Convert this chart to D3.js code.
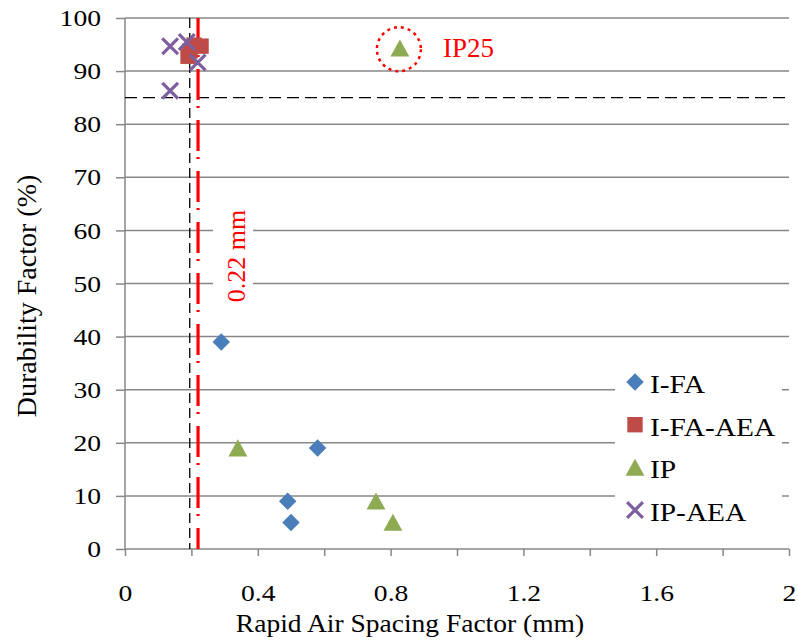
<!DOCTYPE html>
<html>
<head>
<meta charset="utf-8">
<script src="https://cdn.jsdelivr.net/npm/d3@7"></script>
<style>
  body { margin: 0; background: #fff; }
  text { font-family: "Liberation Serif", "Times New Roman", serif; }
</style>
</head>
<body>
<svg id="drawing-area"></svg>
<script>
// data
var series = ["I-FA", "I-FA-AEA", "IP", "IP-AEA"];
var colors = ["#4A7EBB", "#BE4B48", "#8EAA52", "#7D5FA0"];

var ifa     = [[0.29, 39], [0.58, 19], [0.49, 9], [0.50, 5]];
var ifaAea  = [[0.208, 94.9], [0.229, 94.7], [0.196, 93.8], [0.19, 92.8]];
var ip      = [[0.34, 19], [0.756, 9], [0.807, 5], [0.828, 94.3]];
var ipAea   = [[0.136, 94.7], [0.186, 95.5], [0.219, 91.6], [0.136, 86.3]];

var xTicks = [0, 0.4, 0.8, 1.2, 1.6, 2];
var xMinor = [0, 0.2, 0.4, 0.6, 0.8, 1, 1.2, 1.4, 1.6, 1.8, 2];
var yTicks = [0, 10, 20, 30, 40, 50, 60, 70, 80, 90, 100];

var limitDF = 85;       // horizontal dashed
var limitBlack = 0.195; // vertical dashed
var limitRed = 0.22;    // red dash-dot

var width = 798, height = 643;
var mLeft = 125, mRight = 789, mTop = 18, mBottom = 549;

var svg = d3.select("#drawing-area")
    .attr("width", width)
    .attr("height", height);

var x = d3.scaleLinear().domain([0, 2]).range([mLeft, mRight]);
var y = d3.scaleLinear().domain([0, 100]).range([mBottom, mTop]);

var gray = "#878787";

// widen text a bit, the reference glyphs are broader than Liberation Serif
function stretch(sel, f) {
    sel.each(function(){
        var n = this.getComputedTextLength();
        d3.select(this).attr("textLength", n * f).attr("lengthAdjust", "spacingAndGlyphs");
    });
}

// gridlines
svg.selectAll(".grid")
    .data(yTicks.filter(function(d){ return d > 0; }))
    .enter()
    .append("line")
    .attr("x1", mLeft).attr("x2", mRight)
    .attr("y1", function(d){ return y(d); })
    .attr("y2", function(d){ return y(d); })
    .attr("stroke", gray)
    .attr("stroke-width", 1.5);

// y axis
var yAxis = d3.axisLeft(y).tickValues(yTicks).tickSize(9).tickPadding(15);
var gy = svg.append("g")
    .attr("transform", "translate(" + mLeft + ",0)")
    .call(yAxis);

// x axis
var xAxis = d3.axisBottom(x).tickValues(xMinor).tickSize(7).tickPadding(28)
    .tickFormat(function(d){
        return xTicks.some(function(t){ return Math.abs(t - d) < 1e-9; }) ? String(+d.toFixed(1)) : "";
    });
var gx = svg.append("g")
    .attr("transform", "translate(0," + mBottom + ")")
    .call(xAxis);

[gx, gy].forEach(function(g){
    g.select(".domain").attr("stroke", gray).attr("stroke-width", 1.5);
    g.selectAll(".tick line").attr("stroke", gray).attr("stroke-width", 1.5);
    g.selectAll(".tick text").attr("fill", "#000")
        .style("font-family", "Liberation Serif, serif").style("font-size", "24px");
    stretch(g.selectAll(".tick text"), 1.15);
});
gy.select(".domain").attr("d", "M0," + mTop + "V" + mBottom);
gx.select(".domain").attr("d", "M" + mLeft + ",0H" + mRight);

// reference lines
svg.append("line")
    .attr("x1", mLeft).attr("x2", mRight)
    .attr("y1", y(limitDF)).attr("y2", y(limitDF))
    .attr("stroke", "#000").attr("stroke-width", 1.3)
    .attr("stroke-dasharray", "12,6");

svg.append("line")
    .attr("x1", x(limitBlack)).attr("x2", x(limitBlack))
    .attr("y1", mTop).attr("y2", mBottom)
    .attr("stroke", "#000").attr("stroke-width", 1.3)
    .attr("stroke-dasharray", "10,5");

svg.append("line")
    .attr("x1", x(limitRed)).attr("x2", x(limitRed))
    .attr("y1", mTop).attr("y2", mBottom)
    .attr("stroke", "#FF0000").attr("stroke-width", 3.2)
    .attr("stroke-dasharray", "31,6,2,12");

// label for red line
var lbl = svg.append("g")
    .attr("transform", "translate(" + 245 + "," + 256 + ") rotate(-90)");
lbl.append("rect")
    .attr("x", -48).attr("y", -32).attr("width", 96).attr("height", 40)
    .attr("fill", "#fff");
lbl.append("text")
    .attr("text-anchor", "middle")
    .attr("fill", "#FF0000")
    .style("font-size", "26px")
    .text("0.22 mm");

// markers
function marker(g, type, color, size) {
    var h = size / 2;
    if (type === 0) {
        g.append("path").attr("d", "M0," + (-h) + "L" + h + ",0L0," + h + "L" + (-h) + ",0Z")
            .attr("fill", color);
    } else if (type === 1) {
        g.append("rect").attr("x", -h * 0.88).attr("y", -h * 0.88)
            .attr("width", size * 0.88).attr("height", size * 0.88).attr("fill", color);
    } else if (type === 2) {
        g.append("path").attr("d", "M0," + (-h) + "L" + (h * 1.08) + "," + (h * 0.95) + "L" + (-h * 1.08) + "," + (h * 0.95) + "Z")
            .attr("fill", color);
    } else {
        var k = h * 0.9;
        g.append("path").attr("d", "M" + (-k) + "," + (-k) + "L" + k + "," + k + "M" + k + "," + (-k) + "L" + (-k) + "," + k)
            .attr("stroke", color).attr("stroke-width", 3.2).attr("fill", "none");
    }
}

var allSeries = [ifa, ifaAea, ip, ipAea];
allSeries.forEach(function(data, i){
    svg.selectAll(".pt" + i)
        .data(data)
        .enter()
        .append("g")
        .attr("class", "pt" + i)
        .attr("transform", function(d){ return "translate(" + x(d[0]) + "," + y(d[1]) + ")"; })
        .each(function(){ marker(d3.select(this), i, colors[i], 17.5); });
});

// IP25 annotation
var ip25 = ip[3];
svg.append("circle")
    .attr("cx", x(ip25[0]) - 1).attr("cy", y(ip25[1]) + 1)
    .attr("r", 22)
    .attr("fill", "none")
    .attr("stroke", "#FF0000").attr("stroke-width", 2.5)
    .attr("stroke-dasharray", "3,4");
svg.append("text")
    .attr("x", x(ip25[0]) + 43)
    .attr("y", y(ip25[1]) + 9)
    .attr("fill", "#FF0000")
    .style("font-size", "27px")
    .text("IP25");

// legend
var lg = svg.append("g");
lg.append("rect")
    .attr("x", 615).attr("y", 362).attr("width", 167).attr("height", 168)
    .attr("fill", "#fff");
series.forEach(function(name, i){
    var cy = 382 + i * 42.7;
    var g = lg.append("g").attr("transform", "translate(635," + cy + ")");
    marker(g, i, colors[i], 17.5);
    lg.append("text")
        .attr("class", "lgtext")
        .attr("x", 650).attr("y", cy + 11)
        .style("font-size", "26px")
        .text(name);
});
stretch(lg.selectAll(".lgtext"), 1.13);

// axis titles
var xt = svg.append("text")
    .attr("text-anchor", "middle")
    .attr("x", 410)
    .attr("y", 632)
    .style("font-size", "25px")
    .text("Rapid Air Spacing Factor (mm)");
stretch(xt, 1.1);

svg.append("text")
    .attr("text-anchor", "middle")
    .attr("transform", "translate(36," + 296 + ") rotate(-90)")
    .style("font-size", "28px")
    .text("Durability Factor (%)");
</script>
</body>
</html>
